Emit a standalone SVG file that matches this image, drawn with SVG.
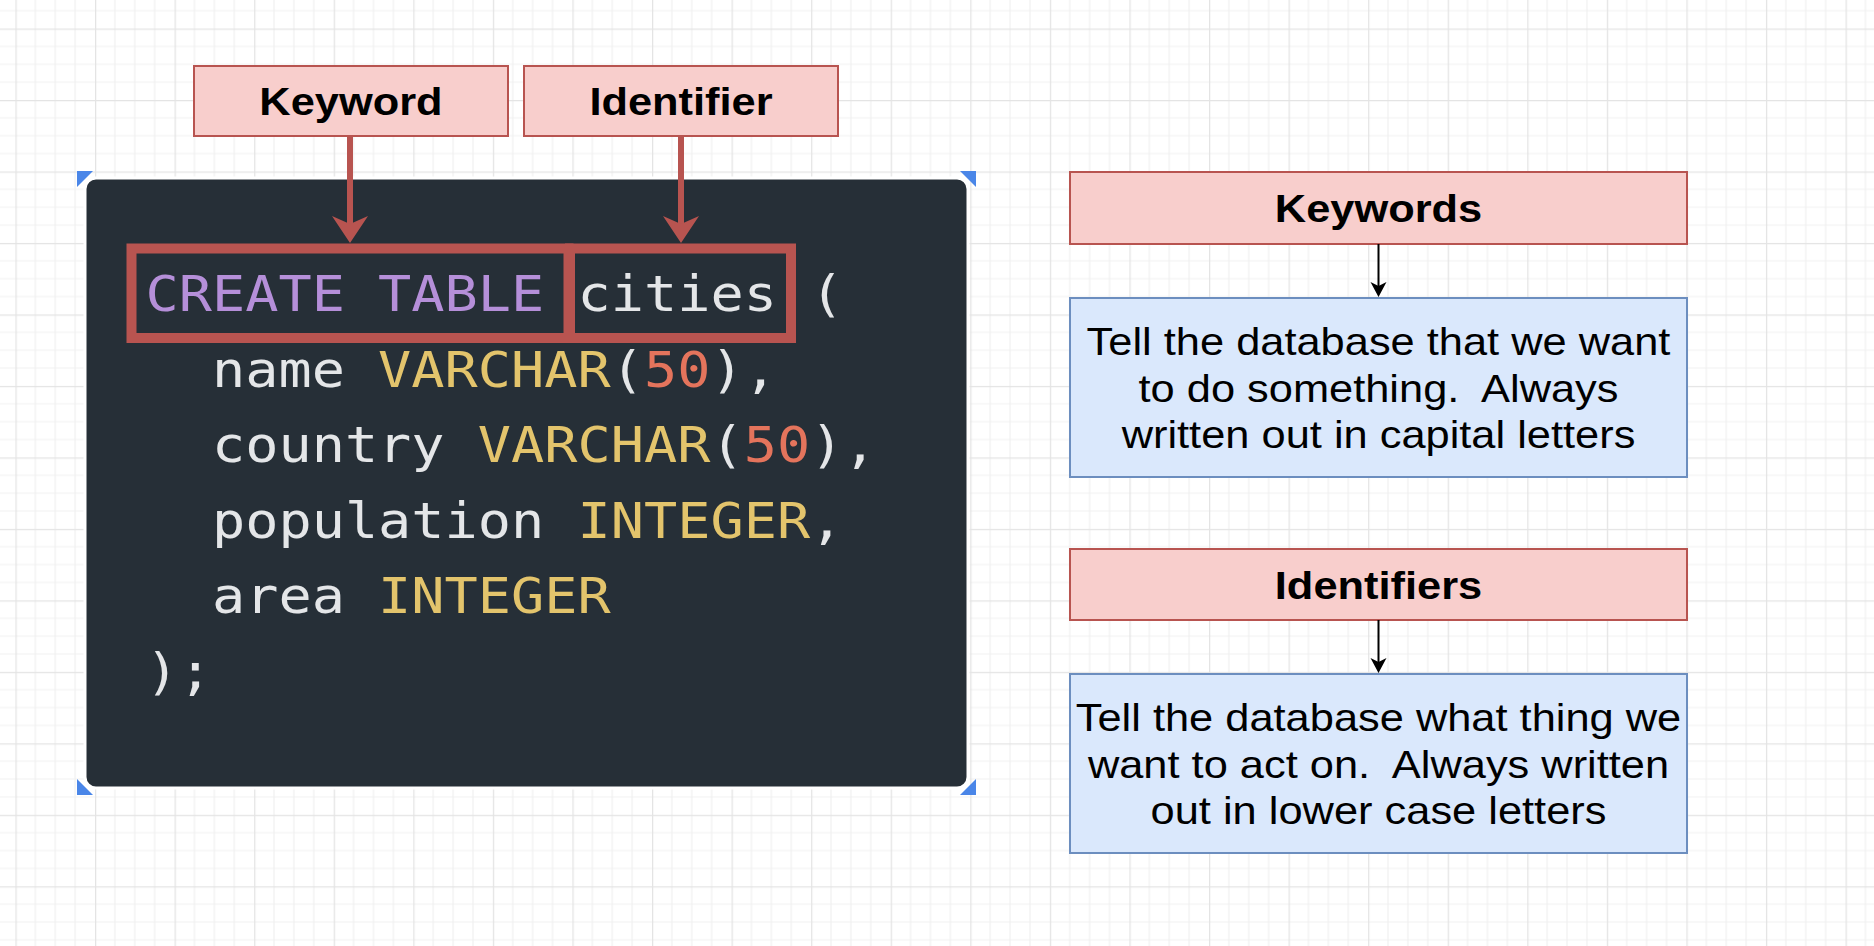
<svg xmlns="http://www.w3.org/2000/svg" width="1874" height="946" viewBox="0 0 1874 946">
<defs>
<pattern id="grid" patternUnits="userSpaceOnUse" x="95" y="100" width="79.57" height="71.48">
<rect width="79.57" height="71.48" fill="#ffffff"/>
<path d="M19.89,0V71.48M39.78,0V71.48M59.68,0V71.48M0,17.87H79.57M0,35.74H79.57M0,53.61H79.57" stroke="#f1f1f1" stroke-width="1.2" fill="none"/>
<path d="M0.6,0V71.48M0,0.6H79.57" stroke="#e4e4e4" stroke-width="1.3" fill="none"/>
</pattern>
<marker id="redArrow" markerUnits="userSpaceOnUse" markerWidth="30" markerHeight="38" refX="8" refY="18" orient="auto" viewBox="0 0 30 38">
<path d="M0,0 L27,18 L0,36 L8,18 Z" fill="#b85450"/>
</marker>
<marker id="blackArrow" markerUnits="userSpaceOnUse" markerWidth="16" markerHeight="18" refX="4" refY="8" orient="auto" viewBox="0 0 16 18">
<path d="M0,0 L15,8 L0,16 L4,8 Z" fill="#000000"/>
</marker>
</defs>
<style>
.red{fill:#f8cecc;stroke:#b85450;stroke-width:2}
.blue{fill:#dae8fc;stroke:#6c8ebf;stroke-width:2}
.lbl{font-family:"Liberation Sans",Arial,sans-serif;font-weight:bold;font-size:39px;fill:#000;text-anchor:middle}
.desc{font-family:"Liberation Sans",Arial,sans-serif;font-size:39px;fill:#000;text-anchor:middle}
.code{font-family:"DejaVu Sans Mono",monospace;font-size:49.6px;fill:#e4e6e8;white-space:pre}
.kw{fill:#b58fd9}
.ty{fill:#e3c46c}
.num{fill:#e4745c}
.hl{fill:none;stroke:#b85450;stroke-width:10}
.handle{fill:#4a86e8}
</style>
<rect id="background" x="0" y="0" width="1874" height="946" fill="url(#grid)"/>

<g id="code-panel">
<path class="handle" d="M77,171 H93 L77,187 Z"/>
<path class="handle" d="M976,171 V187 L960,171 Z"/>
<path class="handle" d="M77,795 V779 L93,795 Z"/>
<path class="handle" d="M976,795 H960 L976,779 Z"/>
<rect x="85" y="178" width="883" height="610" rx="11" fill="#262f37" stroke="#ffffff" stroke-width="3"/>
<text class="code" transform="translate(145.5,311) scale(1.113,1)"><tspan class="kw">CREATE TABLE</tspan> cities (</text>
<text class="code" transform="translate(145.5,386.5) scale(1.113,1)">  name <tspan class="ty">VARCHAR</tspan>(<tspan class="num">50</tspan>),</text>
<text class="code" transform="translate(145.5,462) scale(1.113,1)">  country <tspan class="ty">VARCHAR</tspan>(<tspan class="num">50</tspan>),</text>
<text class="code" transform="translate(145.5,537.5) scale(1.113,1)">  population <tspan class="ty">INTEGER</tspan>,</text>
<text class="code" transform="translate(145.5,613) scale(1.113,1)">  area <tspan class="ty">INTEGER</tspan></text>
<text class="code" transform="translate(145.5,688.5) scale(1.113,1)">);</text>
</g>

<g id="highlight-keyword">
<rect class="hl" x="131.5" y="248.5" width="437" height="89.5"/>
</g>
<g id="highlight-identifier">
<rect class="hl" x="570" y="248.5" width="221" height="89.5"/>
</g>

<g id="label-keyword">
<rect class="red" x="194" y="66" width="314" height="70"/>
<text class="lbl" transform="translate(351,115) scale(1.113,1)">Keyword</text>
</g>
<g id="label-identifier">
<rect class="red" x="524" y="66" width="314" height="70"/>
<text class="lbl" transform="translate(681,115) scale(1.113,1)">Identifier</text>
</g>

<g id="keywords-title">
<rect class="red" x="1070" y="172" width="617" height="72"/>
<text class="lbl" transform="translate(1378.5,222) scale(1.113,1)">Keywords</text>
</g>
<g id="keywords-desc">
<rect class="blue" x="1070" y="298" width="617" height="179"/>
<text class="desc" transform="translate(1378.5,355) scale(1.113,1)">Tell the database that we want</text>
<text class="desc" transform="translate(1378.5,401.5) scale(1.113,1)" style="white-space:pre">to do something.  Always</text>
<text class="desc" transform="translate(1378.5,448) scale(1.113,1)">written out in capital letters</text>
</g>

<g id="identifiers-title">
<rect class="red" x="1070" y="549" width="617" height="71"/>
<text class="lbl" transform="translate(1378.5,598.5) scale(1.113,1)">Identifiers</text>
</g>
<g id="identifiers-desc">
<rect class="blue" x="1070" y="674" width="617" height="179"/>
<text class="desc" transform="translate(1378.5,731) scale(1.113,1)">Tell the database what thing we</text>
<text class="desc" transform="translate(1378.5,777.5) scale(1.113,1)" style="white-space:pre">want to act on.  Always written</text>
<text class="desc" transform="translate(1378.5,824) scale(1.113,1)">out in lower case letters</text>
</g>

<g id="connectors" fill="none">
<line x1="350" y1="136" x2="350" y2="224" stroke="#b85450" stroke-width="6" marker-end="url(#redArrow)"/>
<line x1="681" y1="136" x2="681" y2="224" stroke="#b85450" stroke-width="6" marker-end="url(#redArrow)"/>
<line x1="1378.5" y1="244" x2="1378.5" y2="286" stroke="#000" stroke-width="2" marker-end="url(#blackArrow)"/>
<line x1="1378.5" y1="620" x2="1378.5" y2="662" stroke="#000" stroke-width="2" marker-end="url(#blackArrow)"/>
</g>
</svg>
